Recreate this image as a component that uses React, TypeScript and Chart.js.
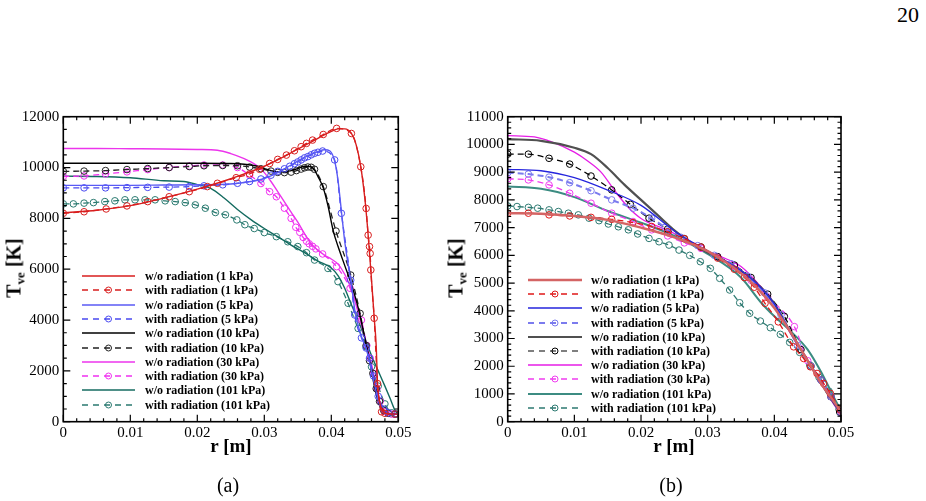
import React, { useEffect, useRef } from 'react';
import { Chart, registerables } from 'chart.js';
Chart.register(...registerables);

const LABELS = [
  'w/o radiation (1 kPa)',
  'with radiation (1 kPa)',
  'w/o radiation (5 kPa)',
  'with radiation (5 kPa)',
  'w/o radiation (10 kPa)',
  'with radiation (10 kPa)',
  'w/o radiation (30 kPa)',
  'with radiation (30 kPa)',
  'w/o radiation (101 kPa)',
  'with radiation (101 kPa)',
];

// ---------- Panel (a) ----------
const A_WO1_R = [0, 0.005, 0.01, 0.015, 0.02, 0.025, 0.03, 0.035, 0.038, 0.04, 0.041, 0.042, 0.043, 0.0437, 0.0444, 0.045, 0.0455, 0.046, 0.0464, 0.0467, 0.0469, 0.0472, 0.0476, 0.048, 0.049, 0.05];
const A_WO1_T = [8220, 8320, 8500, 8800, 9150, 9560, 10050, 10720, 11150, 11420, 11520, 11520, 11340, 10900, 10030, 8800, 7350, 5600, 4100, 3000, 1500, 800, 450, 330, 300, 300];
const A_W1_R = [0, 0.0031, 0.0064, 0.0095, 0.0126, 0.0158, 0.0188, 0.0215, 0.023, 0.0258, 0.0278, 0.0293, 0.0308, 0.032, 0.0333, 0.0345, 0.0355, 0.0363, 0.0372, 0.0388, 0.0408, 0.043, 0.0444, 0.0452, 0.0455, 0.0457, 0.0458, 0.0459, 0.0464, 0.0469, 0.0475, 0.048, 0.0495];
const A_W1_T = [8200, 8260, 8370, 8490, 8660, 8850, 9050, 9250, 9380, 9600, 9750, 9930, 10160, 10320, 10490, 10660, 10820, 10950, 11080, 11300, 11540, 11340, 10030, 8390, 7340, 6890, 6620, 5970, 4070, 1500, 390, 330, 300];

const A_WO5_R = [0, 0.005, 0.01, 0.015, 0.02, 0.025, 0.028, 0.03, 0.032, 0.034, 0.036, 0.038, 0.039, 0.0398, 0.0405, 0.041, 0.0415, 0.042, 0.0425, 0.043, 0.0435, 0.044, 0.0445, 0.045, 0.0455, 0.046, 0.0465, 0.047, 0.0475, 0.048, 0.049, 0.05];
const A_WO5_T = [9300, 9300, 9300, 9310, 9320, 9350, 9450, 9570, 9800, 10100, 10400, 10630, 10700, 10650, 10250, 9500, 8300, 7100, 6200, 5400, 4400, 3800, 3350, 3000, 2600, 2000, 1400, 850, 450, 330, 300, 300];
const A_W5_R = [0, 0.0031, 0.0063, 0.0095, 0.0126, 0.0158, 0.0188, 0.021, 0.0238, 0.026, 0.0278, 0.0295, 0.031, 0.032, 0.033, 0.0338, 0.0345, 0.035, 0.0355, 0.036, 0.0365, 0.037, 0.0375, 0.038, 0.0387, 0.0405, 0.0415, 0.0429, 0.0435, 0.0445, 0.0452, 0.0457, 0.0463, 0.047, 0.0478, 0.0485, 0.0495];
const A_W5_T = [9200, 9200, 9200, 9210, 9220, 9230, 9250, 9280, 9320, 9380, 9450, 9550, 9700, 9850, 9950, 10050, 10150, 10220, 10300, 10380, 10430, 10500, 10560, 10600, 10650, 10300, 8200, 5570, 4200, 3300, 2900, 2500, 1800, 1000, 500, 350, 300];

const A_WO10_R = [0, 0.005, 0.01, 0.015, 0.02, 0.025, 0.027, 0.029, 0.03, 0.031, 0.032, 0.033, 0.034, 0.035, 0.036, 0.0368, 0.0375, 0.038, 0.0388, 0.0395, 0.0403, 0.041, 0.042, 0.043, 0.044, 0.045, 0.0455, 0.046, 0.0465, 0.047, 0.0475, 0.048, 0.049, 0.05];
const A_WO10_T = [10170, 10170, 10170, 10170, 10170, 10160, 10130, 10050, 9960, 9880, 9830, 9830, 9880, 9960, 10040, 10040, 9900, 9650, 9200, 8500, 7500, 6900, 6150, 5400, 4500, 3300, 2700, 2000, 1300, 800, 450, 330, 300, 300];
const A_W10_R = [0, 0.0031, 0.0063, 0.0095, 0.0126, 0.0158, 0.0188, 0.021, 0.0238, 0.026, 0.0278, 0.0295, 0.031, 0.032, 0.033, 0.034, 0.0348, 0.0355, 0.036, 0.0365, 0.037, 0.0375, 0.0388, 0.0407, 0.0429, 0.0443, 0.0452, 0.0457, 0.0462, 0.0467, 0.0472, 0.0478, 0.0485, 0.0495];
const A_W10_T = [9850, 9860, 9880, 9920, 9960, 10000, 10040, 10070, 10080, 10070, 10020, 9950, 9860, 9810, 9800, 9820, 9880, 9940, 9990, 10020, 10010, 9930, 9250, 7500, 5770, 4260, 3000, 2400, 1900, 1300, 800, 450, 330, 300];

const A_WO30_R = [0, 0.005, 0.01, 0.015, 0.02, 0.023, 0.025, 0.027, 0.028, 0.029, 0.03, 0.031, 0.032, 0.033, 0.034, 0.035, 0.036, 0.037, 0.038, 0.039, 0.04, 0.041, 0.042, 0.043, 0.044, 0.045, 0.0455, 0.046, 0.0465, 0.047, 0.0475, 0.048, 0.049, 0.05];
const A_WO30_T = [10750, 10750, 10740, 10730, 10710, 10680, 10550, 10350, 10220, 10050, 9800, 9450, 9050, 8650, 8250, 7850, 7400, 7000, 6750, 6550, 6400, 6200, 5800, 5200, 4300, 3300, 2800, 2200, 1600, 1000, 550, 350, 300, 300];
const A_W30_R = [0, 0.0031, 0.0063, 0.0095, 0.0126, 0.0158, 0.0188, 0.021, 0.0238, 0.026, 0.0278, 0.0295, 0.0308, 0.0318, 0.033, 0.034, 0.0347, 0.0353, 0.0358, 0.0363, 0.0367, 0.0372, 0.0377, 0.0387, 0.0408, 0.0428, 0.0445, 0.0453, 0.0458, 0.0463, 0.0468, 0.0473, 0.048, 0.049];
const A_W30_T = [9650, 9670, 9750, 9830, 9920, 10000, 10060, 10100, 10100, 10000, 9700, 9370, 9050, 8850, 8400, 8000, 7650, 7450, 7250, 7100, 7000, 6900, 6800, 6600, 6100, 5250, 4000, 3000, 2500, 1900, 1300, 800, 400, 300];

const A_WO101_R = [0, 0.005, 0.01, 0.015, 0.018, 0.02, 0.022, 0.024, 0.026, 0.028, 0.03, 0.032, 0.034, 0.036, 0.038, 0.04, 0.041, 0.042, 0.043, 0.044, 0.045, 0.046, 0.047, 0.048, 0.0488, 0.0495, 0.05];
const A_WO101_T = [9660, 9650, 9600, 9480, 9450, 9330, 9180, 8800, 8350, 7950, 7600, 7280, 6950, 6650, 6320, 6050, 5750, 5250, 4600, 4000, 3300, 2600, 2000, 1400, 900, 450, 300];
const A_W101_R = [0, 0.0015, 0.0031, 0.0045, 0.0062, 0.0077, 0.0092, 0.0107, 0.0122, 0.0137, 0.0152, 0.0167, 0.0182, 0.0197, 0.0212, 0.0227, 0.0242, 0.0259, 0.0271, 0.0285, 0.03, 0.0318, 0.0335, 0.035, 0.0363, 0.0375, 0.0395, 0.041, 0.0425, 0.044, 0.0452, 0.046, 0.047, 0.048, 0.049, 0.0498];
const A_W101_T = [8570, 8570, 8600, 8620, 8660, 8690, 8730, 8730, 8730, 8730, 8690, 8660, 8620, 8530, 8400, 8230, 8140, 7940, 7750, 7600, 7440, 7280, 7080, 6890, 6650, 6360, 6030, 5510, 4660, 3670, 2950, 2160, 1400, 700, 350, 300];

// ---------- Panel (b) ----------
const B_WO1_R = [0, 0.005, 0.01, 0.015, 0.02, 0.025, 0.03, 0.035, 0.0375, 0.04, 0.0425, 0.045, 0.0475, 0.049, 0.05];
const B_WO1_T = [7520, 7500, 7420, 7280, 7000, 6650, 6150, 5350, 4800, 4100, 3200, 2200, 1200, 700, 350];
const B_W1_R = [0, 0.0031, 0.0062, 0.0093, 0.0125, 0.0156, 0.0188, 0.0216, 0.024, 0.0265, 0.029, 0.0315, 0.034, 0.0355, 0.037, 0.0386, 0.0406, 0.0429, 0.0444, 0.0454, 0.0464, 0.0474, 0.0484, 0.0499];
const B_W1_T = [7520, 7520, 7460, 7420, 7370, 7300, 7180, 7040, 6850, 6600, 6300, 5900, 5500, 5200, 4850, 4270, 3600, 2700, 2280, 1980, 1740, 1380, 1020, 420];

const B_WO5_R = [0, 0.005, 0.01, 0.015, 0.02, 0.025, 0.03, 0.035, 0.0375, 0.04, 0.0425, 0.045, 0.0475, 0.049, 0.05];
const B_WO5_T = [9100, 9050, 8800, 8350, 7800, 6880, 6150, 5450, 4950, 4250, 3200, 2200, 1200, 650, 300];
const B_W5_R = [0, 0.0031, 0.0062, 0.0093, 0.0125, 0.0156, 0.0188, 0.0216, 0.0236, 0.026, 0.0285, 0.031, 0.0335, 0.036, 0.0385, 0.041, 0.0435, 0.0455, 0.047, 0.0485, 0.05];
const B_W5_T = [8980, 8930, 8820, 8620, 8330, 8000, 7700, 7340, 7010, 6650, 6350, 6000, 5700, 5250, 4650, 3850, 2750, 2000, 1500, 900, 300];

const B_WO10_R = [0, 0.005, 0.01, 0.0125, 0.015, 0.0175, 0.02, 0.0225, 0.025, 0.0275, 0.03, 0.0325, 0.035, 0.0375, 0.04, 0.0425, 0.045, 0.0475, 0.049, 0.05];
const B_WO10_T = [10190, 10130, 9880, 9650, 9150, 8550, 8000, 7450, 6900, 6450, 6100, 5800, 5450, 4950, 4250, 3200, 2200, 1200, 650, 300];
const B_W10_R = [0, 0.0031, 0.0062, 0.0093, 0.0125, 0.0156, 0.0184, 0.0212, 0.024, 0.0265, 0.029, 0.0315, 0.034, 0.0365, 0.039, 0.0415, 0.044, 0.0455, 0.047, 0.0485, 0.0498];
const B_W10_T = [9650, 9650, 9500, 9290, 8860, 8360, 7840, 7340, 6950, 6600, 6300, 5950, 5650, 5200, 4600, 3800, 2600, 2000, 1500, 900, 350];

const B_WO30_R = [0, 0.004, 0.0065, 0.01, 0.012, 0.014, 0.016, 0.018, 0.02, 0.024, 0.027, 0.03, 0.033, 0.035, 0.0375, 0.04, 0.0425, 0.045, 0.0475, 0.049, 0.05];
const B_WO30_T = [10320, 10270, 10100, 9720, 9400, 9000, 8350, 7750, 7330, 6900, 6550, 6150, 5850, 5600, 5000, 4250, 3150, 2200, 1200, 600, 300];
const B_W30_R = [0, 0.0031, 0.0062, 0.0093, 0.0125, 0.0156, 0.0188, 0.0216, 0.024, 0.0265, 0.029, 0.0315, 0.034, 0.0365, 0.039, 0.043, 0.045, 0.047, 0.0485, 0.05];
const B_W30_T = [8760, 8720, 8540, 8240, 7880, 7520, 7220, 6920, 6700, 6450, 6250, 5950, 5600, 5100, 4500, 3430, 2200, 1500, 900, 350];

const B_WO101_R = [0, 0.005, 0.01, 0.015, 0.02, 0.025, 0.03, 0.035, 0.038, 0.04, 0.0425, 0.045, 0.047, 0.049, 0.05];
const B_WO101_T = [8480, 8400, 8100, 7600, 7180, 6700, 6050, 5200, 4300, 3800, 3250, 2600, 1800, 850, 400];
const B_W101_R = [0, 0.0014, 0.0031, 0.0045, 0.0062, 0.0076, 0.0091, 0.0106, 0.0122, 0.0137, 0.0151, 0.0166, 0.0181, 0.0195, 0.0212, 0.0227, 0.0242, 0.0257, 0.0273, 0.0289, 0.0304, 0.0318, 0.0333, 0.0348, 0.0363, 0.0379, 0.0394, 0.0409, 0.0423, 0.0438, 0.0453, 0.0467, 0.0482, 0.0497];
const B_W101_T = [7780, 7760, 7730, 7700, 7640, 7580, 7520, 7460, 7340, 7250, 7130, 7030, 6920, 6770, 6610, 6490, 6370, 6190, 6000, 5770, 5530, 5170, 4750, 4290, 3910, 3630, 3390, 3150, 2860, 2500, 2050, 1600, 1100, 450];

type Series = { r: number[]; t: number[]; color: string; width: number; dashed: boolean };

const SERIES_A: Series[] = [
  { r: A_WO1_R, t: A_WO1_T, color: '#d81e1e', width: 1.4, dashed: false },
  { r: A_W1_R, t: A_W1_T, color: '#d81e1e', width: 1.3, dashed: true },
  { r: A_WO5_R, t: A_WO5_T, color: '#5a5af5', width: 1.4, dashed: false },
  { r: A_W5_R, t: A_W5_T, color: '#4a4af0', width: 1.3, dashed: true },
  { r: A_WO10_R, t: A_WO10_T, color: '#000000', width: 1.4, dashed: false },
  { r: A_W10_R, t: A_W10_T, color: '#222222', width: 1.3, dashed: true },
  { r: A_WO30_R, t: A_WO30_T, color: '#ec34ec', width: 1.4, dashed: false },
  { r: A_W30_R, t: A_W30_T, color: '#f030f0', width: 1.3, dashed: true },
  { r: A_WO101_R, t: A_WO101_T, color: '#146b60', width: 1.4, dashed: false },
  { r: A_W101_R, t: A_W101_T, color: '#2a7a70', width: 1.3, dashed: true },
];

const SERIES_B: Series[] = [
  { r: B_WO1_R, t: B_WO1_T, color: '#d46464', width: 2.4, dashed: false },
  { r: B_W1_R, t: B_W1_T, color: '#e01818', width: 1.3, dashed: true },
  { r: B_WO5_R, t: B_WO5_T, color: '#2525dd', width: 1.3, dashed: false },
  { r: B_W5_R, t: B_W5_T, color: '#7b7bee', width: 2.0, dashed: true },
  { r: B_WO10_R, t: B_WO10_T, color: '#505050', width: 2.2, dashed: false },
  { r: B_W10_R, t: B_W10_T, color: '#000000', width: 1.2, dashed: true },
  { r: B_WO30_R, t: B_WO30_T, color: '#e61ee6', width: 1.3, dashed: false },
  { r: B_W30_R, t: B_W30_T, color: '#f03cf0', width: 1.3, dashed: true },
  { r: B_WO101_R, t: B_WO101_T, color: '#3c8c82', width: 2.0, dashed: false },
  { r: B_W101_R, t: B_W101_T, color: '#2e7a72', width: 1.3, dashed: true },
];

const FONT = '"Liberation Serif", "Times New Roman", serif';

const frameTicks = {
  id: 'frameTicks',
  afterDatasetsDraw(chart: any, _args: any, opts: any) {
    const { ctx, chartArea } = chart;
    const { left, right, top, bottom } = chartArea;
    const xs = chart.scales.x;
    const ys = chart.scales.y;
    ctx.save();
    ctx.strokeStyle = '#000';
    ctx.lineWidth = 1.2;
    const drawAxis = (scale: any, major: number, minor: number, horiz: boolean) => {
      const n = Math.round((scale.max - scale.min) / minor);
      const every = Math.round(major / minor);
      for (let i = 0; i <= n; i++) {
        const v = scale.min + i * minor;
        const p = scale.getPixelForValue(v);
        const len = i % every === 0 ? 7 : 3.5;
        ctx.beginPath();
        if (horiz) {
          ctx.moveTo(p, bottom); ctx.lineTo(p, bottom - len);
          ctx.moveTo(p, top); ctx.lineTo(p, top + len);
        } else {
          ctx.moveTo(left, p); ctx.lineTo(left + len, p);
          ctx.moveTo(right, p); ctx.lineTo(right - len, p);
        }
        ctx.stroke();
      }
    };
    drawAxis(xs, opts.xMajor, opts.xMinor, true);
    drawAxis(ys, opts.yMajor, opts.yMinor, false);
    ctx.lineWidth = 1.6;
    ctx.strokeRect(left, top, right - left, bottom - top);
    ctx.restore();
  },
};

type PanelProps = {
  series: Series[];
  yMax: number;
  yMajor: number;
  yMinor: number;
  yWidth: number;
  padRight: number;
};

function Panel({ series, yMax, yMajor, yMinor, yWidth, padRight }: PanelProps) {
  const ref = useRef<HTMLCanvasElement | null>(null);
  useEffect(() => {
    if (!ref.current) return;
    const datasets = series.map((s, i) => ({
      label: LABELS[i],
      data: s.r.map((x, k) => ({ x, y: s.t[k] })),
      borderColor: s.color,
      borderWidth: s.width,
      borderDash: s.dashed ? [6, 4] : [],
      pointRadius: s.dashed ? 3.3 : 0,
      pointHoverRadius: 0,
      pointStyle: 'circle',
      pointBorderColor: s.color,
      pointBackgroundColor: 'rgba(0,0,0,0)',
      pointBorderWidth: 1,
      cubicInterpolationMode: 'monotone',
      fill: false,
    }));
    const chart = new Chart(ref.current, {
      type: 'line',
      data: { datasets } as any,
      plugins: [frameTicks as any],
      options: {
        responsive: false,
        animation: false,
        events: [],
        layout: { padding: { left: 0, right: padRight, top: 16.7, bottom: 0 } },
        plugins: {
          legend: { display: false },
          tooltip: { enabled: false },
          frameTicks: { xMajor: 0.01, xMinor: 0.002, yMajor, yMinor },
        } as any,
        scales: {
          x: {
            type: 'linear',
            min: 0,
            max: 0.05,
            grid: { display: false, drawTicks: false },
            border: { display: false },
            afterFit: (s: any) => { s.height = 38.3; },
            ticks: {
              stepSize: 0.01,
              padding: 2,
              color: '#000',
              font: { family: FONT, size: 15 },
              maxRotation: 0,
              callback: (v: any) => String(Number(Number(v).toFixed(3))),
            },
          },
          y: {
            type: 'linear',
            min: 0,
            max: yMax,
            grid: { display: false, drawTicks: false },
            border: { display: false },
            afterFit: (s: any) => { s.width = yWidth; },
            ticks: {
              stepSize: yMajor,
              padding: 4,
              color: '#000',
              font: { family: FONT, size: 15 },
              callback: (v: any) => String(Math.round(Number(v))),
            },
          },
        },
      } as any,
    });
    return () => chart.destroy();
  }, []);
  return <canvas ref={ref} width={420} height={360} style={{ display: 'block' }} />;
}

function Legend({ series, left, textLeft, top, step, sampleW }: { series: Series[]; left: number; textLeft: number; top: number; step: number; sampleW: number }) {
  return (
    <>
      {series.map((s, i) => (
        <div
          key={i}
          style={{
            position: 'absolute',
            left,
            top: top + i * step - 7,
            height: 14,
            display: 'flex',
            alignItems: 'center',
            whiteSpace: 'nowrap',
          }}
        >
          <svg width={sampleW} height={14} style={{ display: 'block' }}>
            <line
              x1={0}
              y1={7}
              x2={sampleW}
              y2={7}
              stroke={s.color}
              strokeWidth={s.width}
              strokeDasharray={s.dashed ? '6 5' : undefined}
            />
            {s.dashed ? <circle cx={sampleW / 2} cy={7} r={3} fill="none" stroke={s.color} strokeWidth={1} /> : null}
          </svg>
          <span
            style={{
              marginLeft: textLeft - left - sampleW,
              font: `bold 12px ${FONT}`,
              lineHeight: '14px',
              color: '#000',
            }}
          >
            {LABELS[i]}
          </span>
        </div>
      ))}
    </>
  );
}

function YTitle({ cx, cy }: { cx: number; cy: number }) {
  return (
    <div
      style={{
        position: 'absolute',
        left: cx,
        top: cy,
        transform: 'translate(-50%, -50%) rotate(-90deg)',
        font: `bold 20px ${FONT}`,
        whiteSpace: 'nowrap',
        lineHeight: '22px',
        color: '#000',
      }}
    >
      T<span style={{ fontSize: 13, position: 'relative', top: 4 }}>ve</span> [K]
    </div>
  );
}

function Centered({ cx, cy, text, font }: { cx: number; cy: number; text: string; font: string }) {
  return (
    <div
      style={{
        position: 'absolute',
        left: cx,
        top: cy,
        transform: 'translate(-50%, -50%)',
        font,
        lineHeight: '1',
        whiteSpace: 'nowrap',
        color: '#000',
      }}
    >
      {text}
    </div>
  );
}

export default function App() {
  return (
    <div style={{ position: 'fixed', left: 0, top: 0, width: 926, height: 501, background: '#fff', overflow: 'hidden' }}>
      <Centered cx={908} cy={15} text="20" font={`22px ${FONT}`} />
      <div style={{ position: 'absolute', left: 0, top: 100 }}>
        <Panel series={SERIES_A} yMax={12000} yMajor={2000} yMinor={500} yWidth={63.3} padRight={21.7} />
      </div>
      <div style={{ position: 'absolute', left: 440, top: 100 }}>
        <Panel series={SERIES_B} yMax={11000} yMajor={1000} yMinor={200} yWidth={67.7} padRight={19} />
      </div>
      <Legend series={SERIES_A} left={82} textLeft={145} top={276} step={14.3} sampleW={53} />
      <Legend series={SERIES_B} left={528} textLeft={591} top={280} step={14.2} sampleW={54} />
      <YTitle cx={15} cy={268} />
      <YTitle cx={457} cy={268} />
      <Centered cx={231} cy={445} text="r [m]" font={`bold 19px ${FONT}`} />
      <Centered cx={674} cy={445} text="r [m]" font={`bold 19px ${FONT}`} />
      <Centered cx={228} cy={485} text="(a)" font={`20px ${FONT}`} />
      <Centered cx={671} cy={485} text="(b)" font={`20px ${FONT}`} />
    </div>
  );
}
